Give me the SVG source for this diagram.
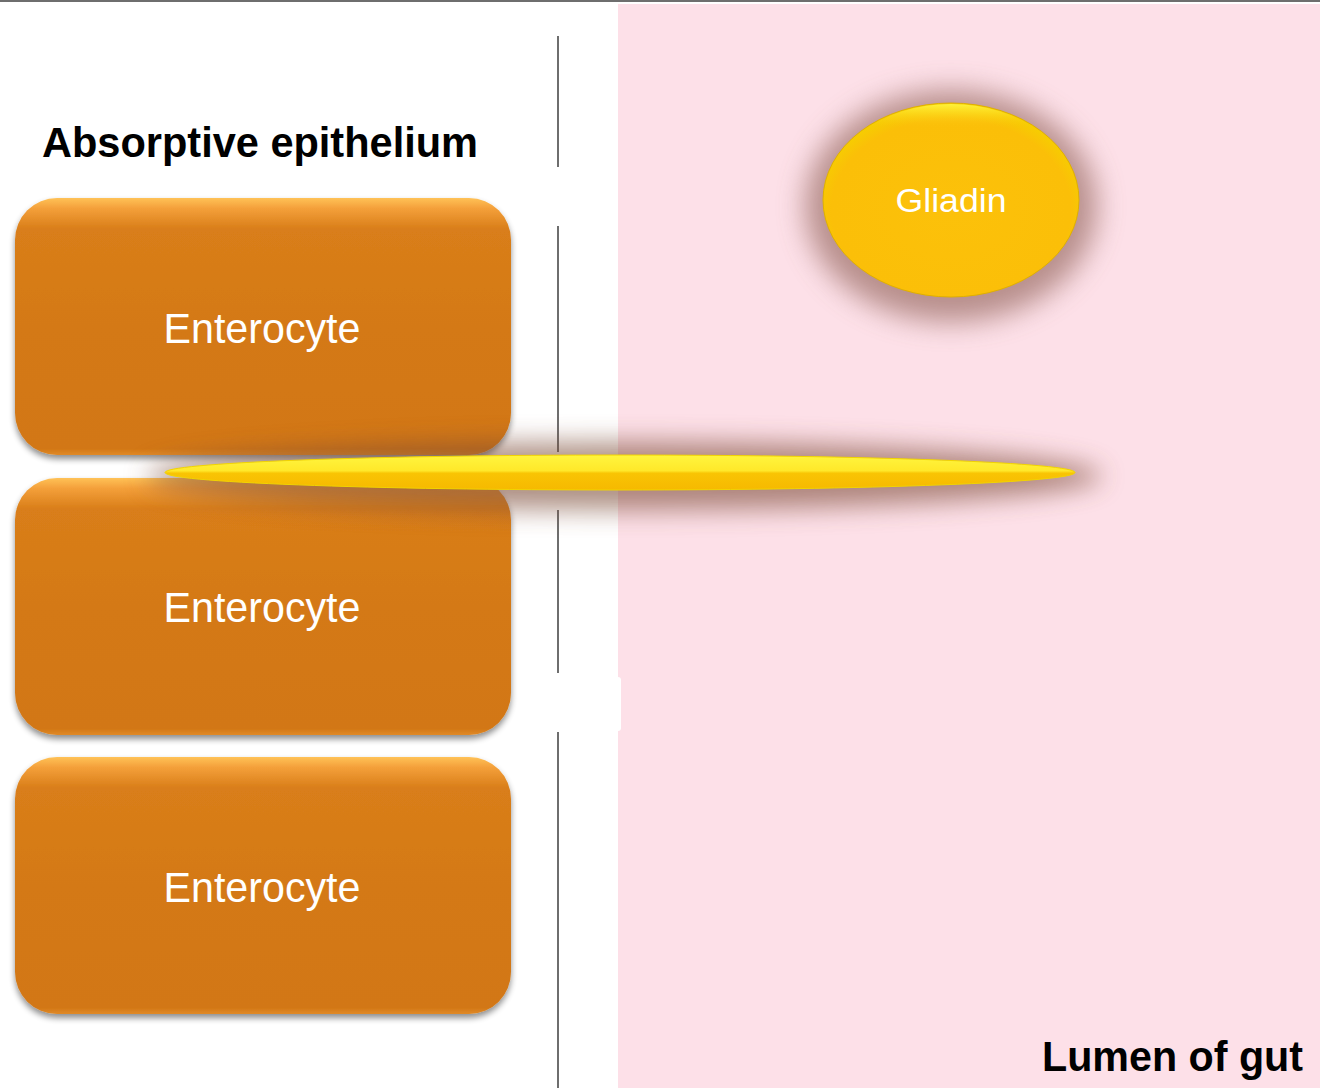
<svg xmlns="http://www.w3.org/2000/svg" width="1320" height="1088" viewBox="0 0 1320 1088">
  <style>
    .cell { fill: url(#cellFill); filter: url(#cellShadow); }
    .cellLabel { font-family: "Liberation Sans", Arial, sans-serif; font-size: 42px; fill: #ffffff; text-anchor: middle; }
    .heading { font-family: "Liberation Sans", Arial, sans-serif; font-weight: bold; font-size: 43px; fill: #000000; }
    .divider { stroke: #6e6e6e; stroke-width: 2; }
  </style>
  <defs>
    <linearGradient id="cellFill" x1="0" y1="0" x2="0" y2="1">
      <stop offset="0" stop-color="#ffc257"/>
      <stop offset="0.04" stop-color="#f4a03a"/>
      <stop offset="0.12" stop-color="#d97e1a"/>
      <stop offset="0.5" stop-color="#d47916"/>
      <stop offset="0.975" stop-color="#d27714"/>
      <stop offset="1" stop-color="#e08a28"/>
    </linearGradient>
    <linearGradient id="needleFill" x1="0" y1="0" x2="0" y2="1">
      <stop offset="0" stop-color="#fff53e"/>
      <stop offset="0.45" stop-color="#ffe82a"/>
      <stop offset="0.52" stop-color="#f9c404"/>
      <stop offset="1" stop-color="#f6b900"/>
    </linearGradient>
    <radialGradient id="gliadinFill" cx="0.5" cy="0.55" r="0.55">
      <stop offset="0" stop-color="#fcc10a"/>
      <stop offset="0.85" stop-color="#fbbf08"/>
      <stop offset="1" stop-color="#f5d000"/>
    </radialGradient>
    <linearGradient id="gliadinRim" x1="0" y1="0" x2="0" y2="1">
      <stop offset="0" stop-color="#fff23a"/>
      <stop offset="0.12" stop-color="#fcc60e" stop-opacity="0"/>
      <stop offset="1" stop-color="#fcc60e" stop-opacity="0"/>
    </linearGradient>
    <filter id="cellShadow" x="-5%" y="-5%" width="110%" height="115%">
      <feGaussianBlur in="SourceAlpha" stdDeviation="3"/>
      <feOffset dy="4" result="b"/>
      <feComponentTransfer><feFuncA type="linear" slope="0.45"/></feComponentTransfer>
      <feMerge><feMergeNode/><feMergeNode in="SourceGraphic"/></feMerge>
    </filter>
    <filter id="glow" x="-40%" y="-60%" width="180%" height="220%">
      <feGaussianBlur stdDeviation="14"/>
    </filter>
    <filter id="needleGlow" x="-10%" y="-300%" width="120%" height="700%">
      <feGaussianBlur stdDeviation="13"/>
    </filter>
  </defs>

  <!-- page edge -->
  <rect x="0" y="0" width="1320" height="1088" fill="#ffffff"/>
  <rect x="0" y="0" width="1320" height="2" fill="#6e6e6e"/>

  <!-- gut lumen background -->
  <rect id="lumen" x="618" y="4" width="702" height="1084" fill="#fde0e8"/>

  <!-- divider between epithelium and lumen -->
  <g id="divider">
    <line class="divider" x1="558" y1="36" x2="558" y2="167"/>
    <line class="divider" x1="558" y1="226" x2="558" y2="452"/>
    <line class="divider" x1="558" y1="510" x2="558" y2="673"/>
    <line class="divider" x1="558" y1="732" x2="558" y2="1088"/>
    <rect x="596" y="677" width="25" height="54" rx="3" fill="#ffffff"/>
  </g>

  <text id="title-epithelium" class="heading" x="42" y="157" textLength="436" lengthAdjust="spacingAndGlyphs">Absorptive epithelium</text>

  <g id="enterocyte-1">
    <rect class="cell" x="15" y="198" width="496" height="257" rx="42"/>
    <text class="cellLabel" x="262" y="343" textLength="197" lengthAdjust="spacingAndGlyphs">Enterocyte</text>
  </g>
  <g id="enterocyte-2">
    <rect class="cell" x="15" y="478" width="496" height="257" rx="42"/>
    <text class="cellLabel" x="262" y="622" textLength="197" lengthAdjust="spacingAndGlyphs">Enterocyte</text>
  </g>
  <g id="enterocyte-3">
    <rect class="cell" x="15" y="757" width="496" height="257" rx="42"/>
    <text class="cellLabel" x="262" y="902" textLength="197" lengthAdjust="spacingAndGlyphs">Enterocyte</text>
  </g>

  <g id="gliadin">
    <ellipse cx="951" cy="206" rx="146" ry="116" fill="#8a5a50" opacity="0.6" filter="url(#glow)"/>
    <ellipse cx="951" cy="200" rx="128" ry="97" fill="url(#gliadinFill)" stroke="#e0b000" stroke-width="1"/>
    <ellipse cx="951" cy="200" rx="127" ry="96" fill="url(#gliadinRim)"/>
    <text x="951" y="212" font-family="'Liberation Sans', Arial, sans-serif" font-size="34" fill="#ffffff" text-anchor="middle" textLength="111" lengthAdjust="spacingAndGlyphs">Gliadin</text>
  </g>

  <g id="gliadin-strand">
    <ellipse cx="624" cy="476" rx="478" ry="34" fill="#7a4a36" opacity="0.6" filter="url(#needleGlow)"/>
    <ellipse cx="620" cy="472.5" rx="455" ry="17.5" fill="url(#needleFill)" stroke="#f2d400" stroke-width="1"/>
  </g>

  <text id="title-lumen" class="heading" x="1042" y="1071" textLength="261" lengthAdjust="spacingAndGlyphs">Lumen of gut</text>
</svg>
